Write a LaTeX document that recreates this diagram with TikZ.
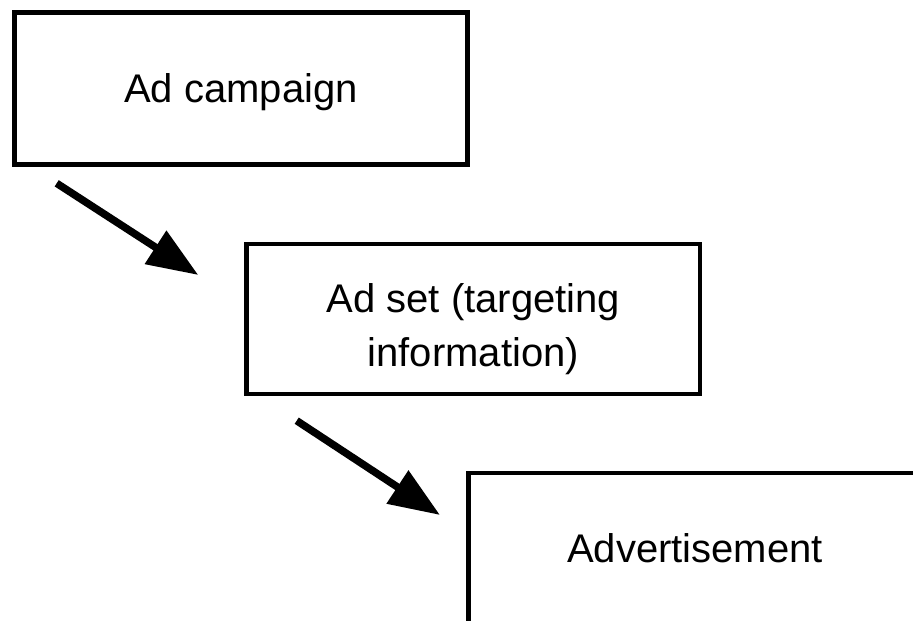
\documentclass[tikz,border=0pt]{standalone}
\usepackage{fontspec}
\setmainfont{Liberation Sans}
\usetikzlibrary{arrows.meta}
\begin{document}
\begin{tikzpicture}[x=1pt,y=1pt,
  box/.style={draw=black, line width=4.3pt, fill=white, rectangle, inner sep=0pt,
    font=\fontsize{40}{54}\selectfont, align=center},
  flow/.style={line width=7.5pt, -{Triangle[length=51pt,width=38pt]}}]
\clip (0,0) rectangle (913,-621);
\fill[white] (0,0) rectangle (913,-621);
\node[box, minimum width=453pt, minimum height=152pt, text height=28.6pt, text depth=0pt] (camp) at (241,-88.5) {Ad campaign};
\node[box, minimum width=453.5pt, minimum height=150pt] (set) at (473.3,-318.7) {\rule{0pt}{49pt}Ad set (targeting\\information)};
\node[box, minimum width=453pt, minimum height=151pt, text height=28.6pt, text depth=0pt] (adv) at (695,-548.5) {Advertisement};
\coordinate (a1s) at (56.7,-183.3);
\coordinate (a1e) at (198.3,-275);
\coordinate (a2s) at (296.7,-420.7);
\coordinate (a2e) at (440,-515);
\draw[flow] (a1s) -- (a1e);
\draw[flow] (a2s) -- (a2e);
\end{tikzpicture}
\end{document}
